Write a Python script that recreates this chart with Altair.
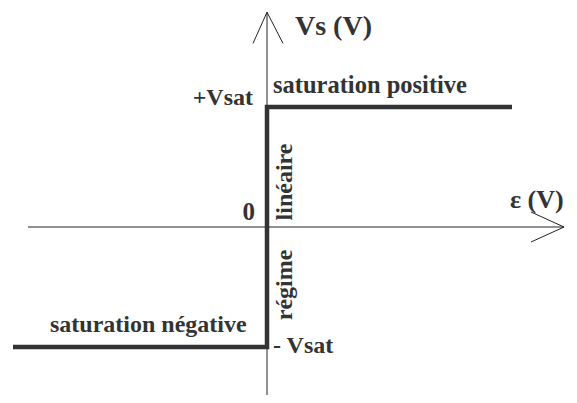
import altair as alt
import pandas as pd

# Transfer characteristic of an op-amp comparator (units: Vsat = 1)
step_eps = [-2.54, 0.0, 0.0, 2.45]
step_vs = [-1.0, -1.0, 1.0, 1.0]

# axes (thin lines) and arrowheads
axis_eps = [-2.39, 2.97]
axis_vs = [-1.44, 1.79]
arrow_x_eps = [2.64, 2.97, 2.64]
arrow_x_vs = [0.125, 0.0, -0.125]
arrow_y_eps = [-0.14, 0.0, 0.16]
arrow_y_vs = [1.53, 1.79, 1.53]

# labels
lab_text = ["Vs (V)", "+Vsat", "saturation positive", "saturation négative",
            "- Vsat", "0", "ε (V)"]
lab_eps = [0.28, -0.14, 0.06, -2.17, 0.06, -0.12, 2.43]
lab_vs = [1.6, 1.02, 1.117, -0.875, -1.05, 0.058, 0.158]
lab_align = ["left", "right", "left", "left", "left", "right", "left"]
lab_size = [28, 24, 24.5, 24, 24, 25, 26]

rot_text = ["linéaire", "régime"]
rot_eps = [0.25, 0.25]
rot_vs = [0.375, -0.483]

xs = alt.Scale(domain=[-2.59, 3.02], nice=False, zero=False)
ys = alt.Scale(domain=[-1.4, 1.825], nice=False, zero=False)
ink = "#333333"

step_df = pd.DataFrame({"eps": step_eps, "vs": step_vs, "o": range(4)})
haxis_df = pd.DataFrame({"eps": axis_eps, "vs": [0, 0], "o": [0, 1]})
vaxis_df = pd.DataFrame({"eps": [0, 0], "vs": axis_vs, "o": [0, 1]})
ax_df = pd.DataFrame({"eps": arrow_x_eps, "vs": arrow_x_vs, "o": range(3)})
ay_df = pd.DataFrame({"eps": arrow_y_eps, "vs": arrow_y_vs, "o": range(3)})


def thin(df):
    return alt.Chart(df).mark_line(color="#222222", strokeWidth=1,
                                   clip=False).encode(
        x=alt.X("eps:Q", scale=xs, axis=None),
        y=alt.Y("vs:Q", scale=ys, axis=None),
        order="o:O",
    )


step = alt.Chart(step_df).mark_line(color=ink, strokeWidth=4.5,
                                    strokeJoin="miter").encode(
    x=alt.X("eps:Q", scale=xs, axis=None),
    y=alt.Y("vs:Q", scale=ys, axis=None),
    order="o:O",
)

layers = [thin(haxis_df), thin(vaxis_df), thin(ax_df), thin(ay_df), step]

for t, e, v, a, s in zip(lab_text, lab_eps, lab_vs, lab_align, lab_size):
    df = pd.DataFrame({"eps": [e], "vs": [v], "t": [t]})
    layers.append(
        alt.Chart(df).mark_text(font="Liberation Serif", fontWeight="bold",
                                fontSize=s, align=a, baseline="alphabetic",
                                color=ink).encode(
            x=alt.X("eps:Q", scale=xs, axis=None),
            y=alt.Y("vs:Q", scale=ys, axis=None),
            text="t:N",
        )
    )

rot_df = pd.DataFrame({"eps": rot_eps, "vs": rot_vs, "t": rot_text})
layers.append(
    alt.Chart(rot_df).mark_text(font="Liberation Serif", fontWeight="bold",
                                fontSize=24, align="center",
                                baseline="alphabetic", angle=270,
                                color=ink).encode(
        x=alt.X("eps:Q", scale=xs, axis=None),
        y=alt.Y("vs:Q", scale=ys, axis=None),
        text="t:N",
    )
)

chart = alt.layer(*layers).properties(
    width=561, height=387, padding=0,
    autosize=alt.AutoSizeParams(type="none"),
).configure_view(stroke=None)

chart.save("out.html", embed_options={"renderer": "svg", "actions": False})
